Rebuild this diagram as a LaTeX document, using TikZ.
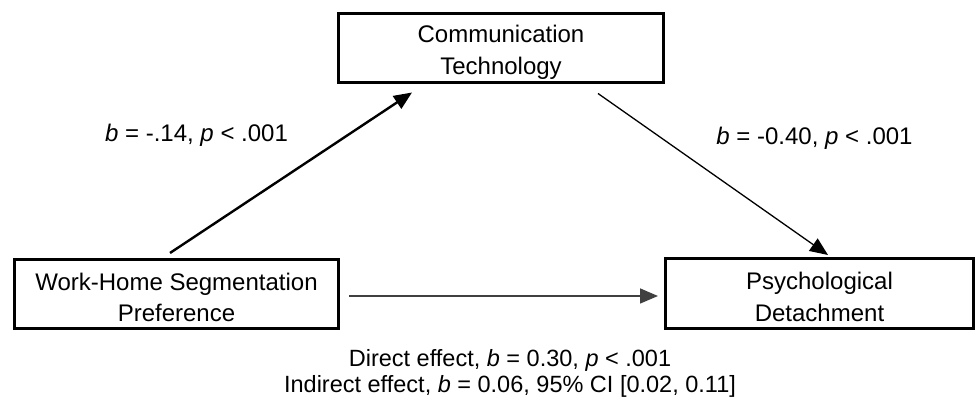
\documentclass[tikz,border=0pt]{standalone}
\usepackage{fontspec}
\setmainfont{Liberation Sans}
\usetikzlibrary{arrows.meta}
% extra room above the first line, so the two lines sit a little low in the box
\newcommand{\toproom}{\rule{0pt}{24.5pt}}
\begin{document}
\begin{tikzpicture}[x=1pt,y=1pt,
  varbox/.style={draw=black, line width=3pt, fill=white, align=center,
    inner sep=0pt, font=\fontsize{24}{31.5}\selectfont},
  pathlbl/.style={font=\fontsize{24}{29}\selectfont, inner sep=0pt},
  effect/.style={-{Triangle[length=18pt,width=15pt]}, draw=black}]
\useasboundingbox (0,0) rectangle (980,398);
% variables
\node[varbox, minimum width=325pt, minimum height=69pt] (ct) at (501,349.5)
  {\toproom Communication\\Technology};
\node[varbox, minimum width=324pt, minimum height=69pt] (wh) at (176.5,104)
  {\toproom Work-Home Segmentation\\Preference};
\node[varbox, minimum width=308pt, minimum height=70pt] (pd) at (819.5,104.5)
  {\toproom Psychological\\Detachment};
% paths
\draw[effect, line width=2.4pt] ([shift={(157pt,5pt)}]wh.north west)
  -- ([shift={(75pt,-8pt)}]ct.south west);
\draw[effect, line width=1.3pt] ([shift={(-67pt,-9pt)}]ct.south east)
  -- ([shift={(164pt,2pt)}]pd.north west);
\draw[effect, line width=1.6pt, draw=black!75] ([shift={(9pt,-2pt)}]wh.east)
  -- ([shift={(-6pt,-2.5pt)}]pd.west);
% coefficients
\node[pathlbl] (la) at (196.5,263) {\textit{b} = -.14, \textit{p} < .001};
\node[pathlbl] (lb) at (814.5,260) {\textit{b} = -0.40, \textit{p} < .001};
\node[align=center, inner sep=0pt, font=\fontsize{23.5}{26}\selectfont] (eff) at (510,25)
  {Direct effect, \textit{b} = 0.30, \textit{p} < .001\\
   Indirect effect, \textit{b} = 0.06, 95\% CI [0.02, 0.11]};
\end{tikzpicture}
\end{document}
